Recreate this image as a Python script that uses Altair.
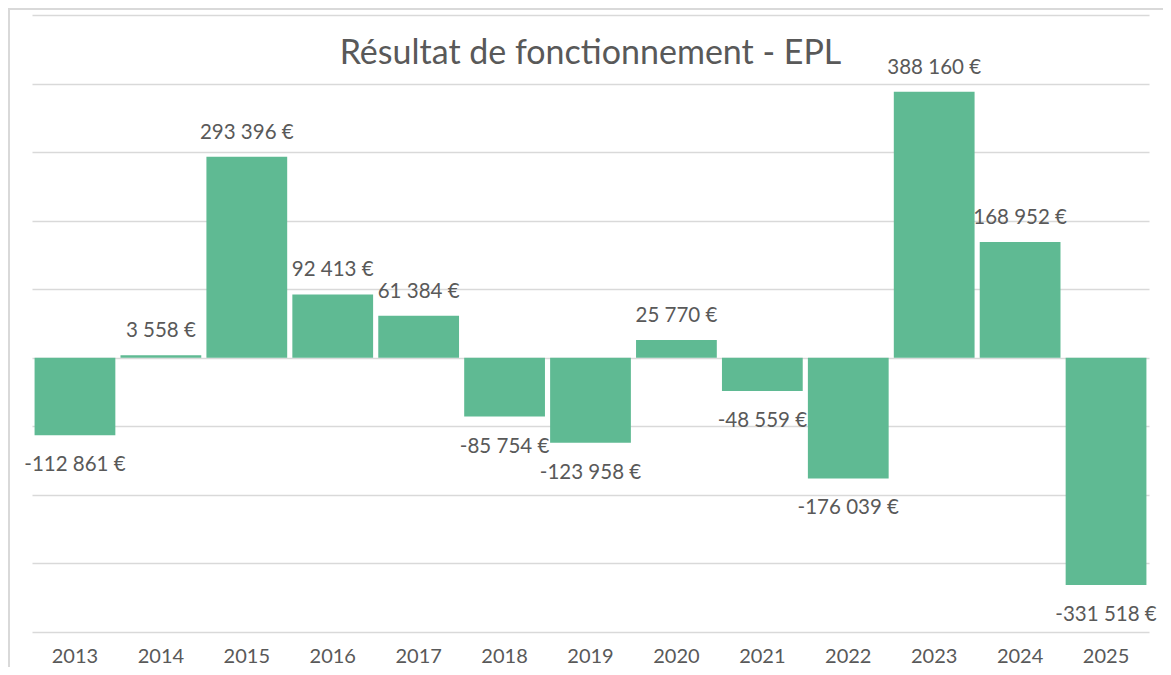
import altair as alt
import pandas as pd

years = ["2013", "2014", "2015", "2016", "2017", "2018", "2019",
         "2020", "2021", "2022", "2023", "2024", "2025"]
values = [-112861, 3558, 293396, 92413, 61384, -85754, -123958,
          25770, -48559, -176039, 388160, 168952, -331518]
title_text = "Résultat de fonctionnement - EPL"


def fmt(v):
    return f"{v:,}".replace(",", " ") + " €"


df = pd.DataFrame({"year": years, "value": values})
df["label"] = [fmt(v) for v in values]

FONT = "Lato"
GREY = "#595959"
BAR = "#5fba93"

x = alt.X("year:N", sort=years, title=None,
          scale=alt.Scale(paddingInner=0.06, paddingOuter=0.03),
          axis=alt.Axis(labelAngle=0, ticks=False, domain=False,
                        labelFont=FONT, labelFontSize=20, labelColor=GREY,
                        labelPadding=14))
y = alt.Y("value:Q", title=None,
          scale=alt.Scale(domain=[-400000, 500000], nice=False),
          axis=alt.Axis(values=list(range(-400000, 500001, 100000)),
                        labels=False, ticks=False, domain=False,
                        grid=True, gridColor="#d9d9d9", gridWidth=1.5))

bars = alt.Chart(df).mark_bar(color=BAR).encode(x=x, y=y, y2=alt.datum(0))

pos = alt.Chart(df).transform_filter("datum.value >= 0").mark_text(
    font=FONT, fontSize=20.5, color=GREY, baseline="alphabetic", dy=-18
).encode(x=alt.X("year:N", sort=years), y="value:Q", text="label:N")

neg = alt.Chart(df).transform_filter("datum.value < 0").mark_text(
    font=FONT, fontSize=20.5, color=GREY, baseline="top", dy=20
).encode(x=alt.X("year:N", sort=years), y="value:Q", text="label:N")

border = alt.Chart(df).mark_rect(fill=None, stroke="#d9d9d9", strokeWidth=1.5).encode(
    x=alt.value(-23), x2=alt.value(1200), y=alt.value(-6), y2=alt.value(700))

chart = alt.layer(border, bars, pos, neg).properties(
    width=1117, height=617,
    title=alt.TitleParams(title_text, font=FONT, fontSize=34, fontWeight="normal",
                          color=GREY, anchor="middle", baseline="alphabetic",
                          offset=0, dy=90),
    autosize=alt.AutoSizeParams(type="none"),
    padding={"left": 24, "top": 7, "right": 14, "bottom": 35},
).configure(background="white", view=alt.ViewConfig(stroke=None))

chart.save("out.html", embed_options={"renderer": "svg", "actions": False})
